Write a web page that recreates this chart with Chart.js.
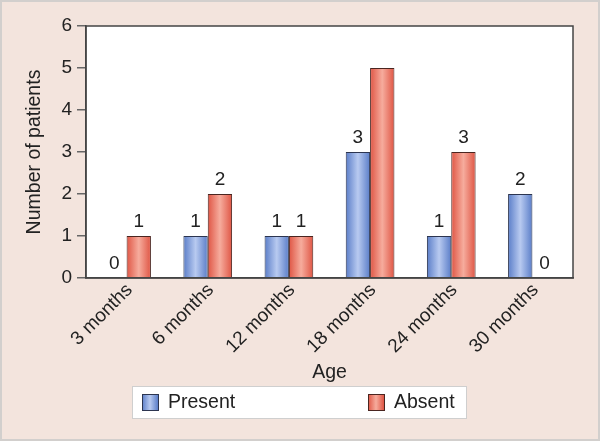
<!DOCTYPE html>
<html>
<head>
<meta charset="utf-8">
<script src="https://cdn.jsdelivr.net/npm/chart.js@4"></script>
<style>
  html, body { margin: 0; padding: 0; }
  body { width: 600px; height: 441px; overflow: hidden; }
  #wrap { position: relative; width: 596px; height: 437px; background: #f3e4dd; border: 2px solid #d2cfcd; }
  canvas { position: absolute; left: -2px; top: -2px; }
</style>
</head>
<body>
<div id="wrap"><canvas id="chart" width="600" height="441"></canvas></div>
<script>
const categories = ['3 months', '6 months', '12 months', '18 months', '24 months', '30 months'];
const present = [0, 1, 1, 3, 1, 2];
const absent = [1, 2, 1, 5, 3, 0];
// the source figure prints no number over the tallest bar
const presentShown = [true, true, true, true, true, true];
const absentShown = [true, true, true, false, true, true];
const yTicks = [0, 1, 2, 3, 4, 5, 6];
const seriesNames = ['Present', 'Absent'];

const FONT = '"Liberation Sans", Arial, sans-serif';

function barGradient(ctx, left, right, edge, mid) {
  const g = ctx.createLinearGradient(left, 0, right, 0);
  g.addColorStop(0, edge);
  g.addColorStop(0.5, mid);
  g.addColorStop(1, edge);
  return g;
}

const colours = [
  { edge: '#5a7dc8', mid: '#b8caf0', line: '#2c3550' },
  { edge: '#df5544', mid: '#f6ac9d', line: '#4a2520' }
];

// horizontal gradient on every bar, once its final position is known
const barShading = {
  id: 'barShading',
  beforeDatasetsDraw(chart) {
    const ctx = chart.ctx;
    chart.data.datasets.forEach((ds, i) => {
      const c = colours[i];
      chart.getDatasetMeta(i).data.forEach(bar => {
        const half = bar.width / 2;
        // options can be shared between bars, so give each its own copy
        bar.options = Object.assign({}, bar.options, {
          backgroundColor: barGradient(ctx, bar.x - half, bar.x + half, c.edge, c.mid)
        });
      });
    });
  }
};

// white plot area + outer box
const plotFrame = {
  id: 'plotFrame',
  beforeDraw(chart) {
    const { ctx, chartArea: a } = chart;
    ctx.save();
    ctx.fillStyle = '#fff';
    ctx.fillRect(a.left, a.top, a.right - a.left, a.bottom - a.top);
    ctx.restore();
  },
  afterDraw(chart) {
    const { ctx, chartArea: a } = chart;
    ctx.save();
    ctx.strokeStyle = '#444';
    ctx.lineWidth = 1.5;
    ctx.strokeRect(a.left, a.top, a.right - a.left, a.bottom - a.top);
    ctx.restore();
  }
};

// value labels above bars
const valueLabels = {
  id: 'valueLabels',
  afterDatasetsDraw(chart) {
    const { ctx } = chart;
    const shown = [presentShown, absentShown];
    ctx.save();
    ctx.font = '19px ' + FONT;
    ctx.fillStyle = '#222';
    ctx.textAlign = 'center';
    ctx.textBaseline = 'bottom';
    chart.data.datasets.forEach((ds, i) => {
      chart.getDatasetMeta(i).data.forEach((bar, j) => {
        if (!shown[i][j]) return;
        ctx.fillText(String(ds.data[j]), bar.x, bar.y - 5);
      });
    });
    ctx.restore();
  }
};

// boxed legend under the axis title
const boxLegend = {
  id: 'boxLegend',
  afterDraw(chart) {
    const { ctx } = chart;
    const bx = 132, by = 386, bw = 334, bh = 32;
    ctx.save();
    ctx.fillStyle = '#fff';
    ctx.fillRect(bx, by, bw, bh);
    ctx.strokeStyle = '#cfcfcf';
    ctx.lineWidth = 1;
    ctx.strokeRect(bx + 0.5, by + 0.5, bw, bh);
    const xs = [142, 368];
    ctx.font = '19.5px ' + FONT;
    ctx.textBaseline = 'middle';
    ctx.textAlign = 'left';
    seriesNames.forEach((name, i) => {
      const c = colours[i], x = xs[i];
      ctx.fillStyle = barGradient(ctx, x, x + 16, c.edge, c.mid);
      ctx.fillRect(x, by + 8, 16, 16);
      ctx.strokeStyle = c.line;
      ctx.strokeRect(x + 0.5, by + 8.5, 16, 16);
      ctx.fillStyle = '#222';
      ctx.fillText(name, x + 26, by + 17);
    });
    ctx.restore();
  }
};

new Chart(document.getElementById('chart'), {
  type: 'bar',
  data: {
    labels: categories,
    datasets: [
      { label: seriesNames[0], data: present, backgroundColor: colours[0].edge, borderColor: colours[0].line, borderWidth: 1 },
      { label: seriesNames[1], data: absent, backgroundColor: colours[1].edge, borderColor: colours[1].line, borderWidth: 1 }
    ]
  },
  options: {
    responsive: false,
    animation: false,
    layout: { padding: { top: 26, right: 27, left: 0, bottom: 0 } },
    categoryPercentage: 0.6,
    barPercentage: 1,
    plugins: {
      legend: { display: false },
      tooltip: { enabled: false }
    },
    scales: {
      x: {
        grid: { display: false },
        border: { display: true, color: '#444', width: 1.5 },
        ticks: {
          color: '#222',
          font: { family: FONT, size: 19 },
          minRotation: 45,
          maxRotation: 45,
          labelOffset: 3,
          padding: -7
        },
        title: {
          display: true,
          text: 'Age',
          color: '#222',
          font: { family: FONT, size: 19.5 },
          padding: { top: 0, bottom: 57 }
        },
        afterFit(scale) { scale.height = 163; }
      },
      y: {
        min: 0,
        max: 6,
        afterBuildTicks(scale) { scale.ticks = yTicks.map(v => ({ value: v })); },
        grid: { drawOnChartArea: false, tickLength: 9, color: '#666', lineWidth: 1.5 },
        border: { display: true, color: '#444', width: 1.5 },
        ticks: {
          color: '#222',
          font: { family: FONT, size: 19 },
          padding: 5
        },
        title: {
          display: true,
          text: 'Number of patients',
          color: '#222',
          font: { family: FONT, size: 19.5 },
          padding: { top: 23, bottom: 0 }
        },
        afterFit(scale) { scale.width = 86; }
      }
    }
  },
  plugins: [barShading, plotFrame, valueLabels, boxLegend]
});
</script>
</body>
</html>
